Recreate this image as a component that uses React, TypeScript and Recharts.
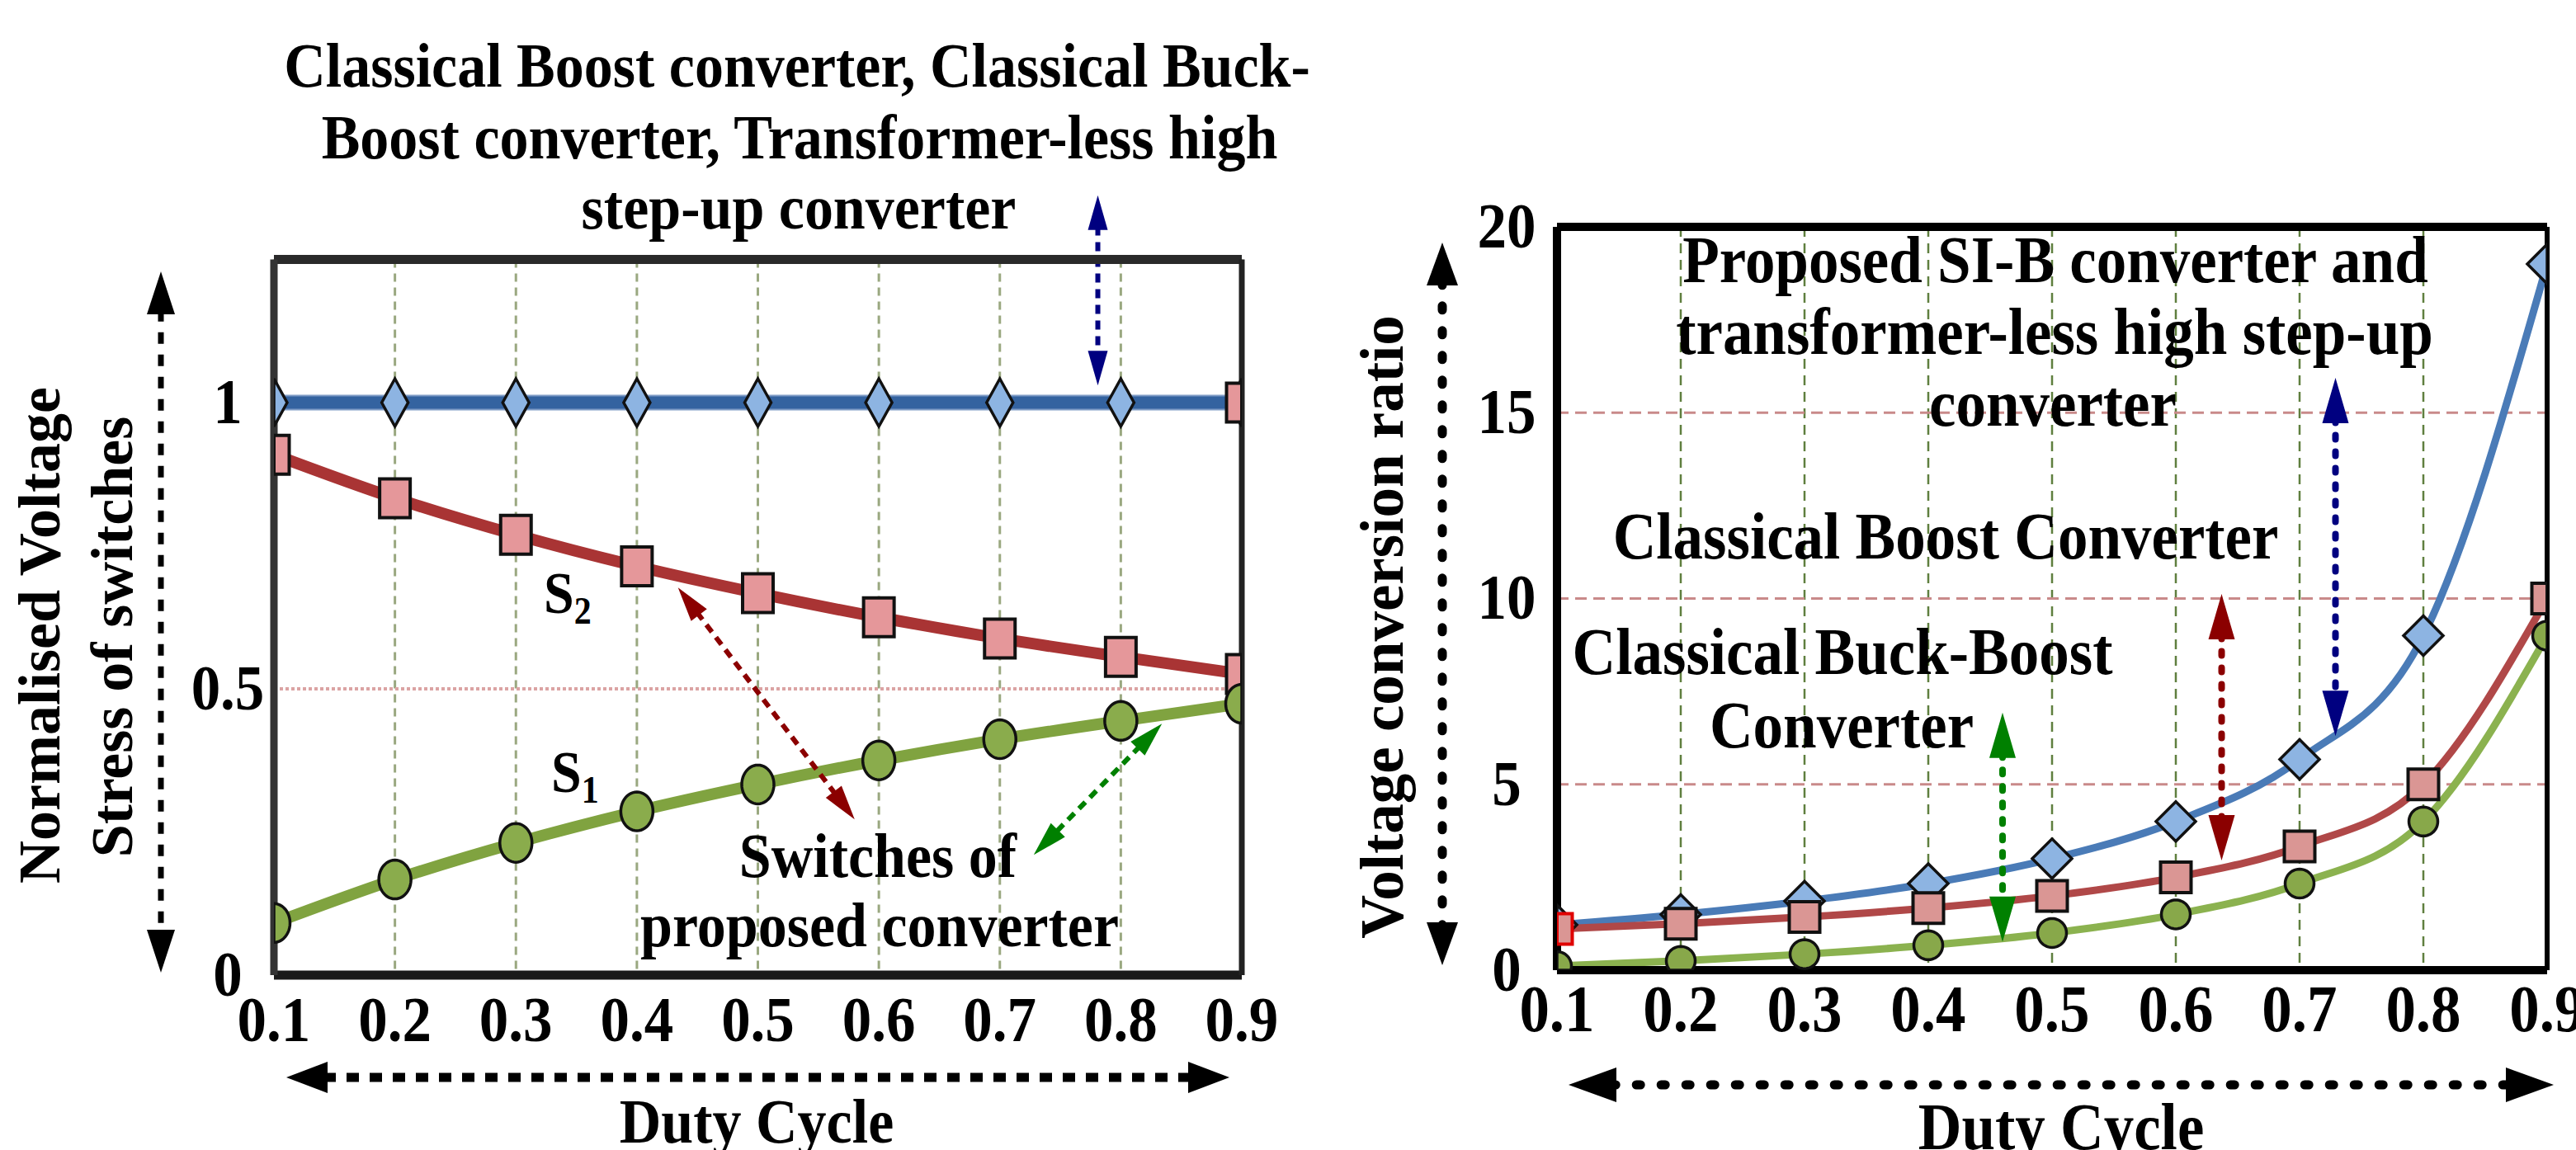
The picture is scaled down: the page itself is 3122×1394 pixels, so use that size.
import React from "react"
import { LineChart, Line, XAxis, YAxis, CartesianGrid, ReferenceLine } from "recharts"

// duty cycle (x) shared by both panels
const dutyCycle = [0.1, 0.2, 0.3, 0.4, 0.5, 0.6, 0.7, 0.8, 0.9]

// left panel: normalised voltage stress of switches
const stressClassical = [1, 1, 1, 1, 1, 1, 1, 1, 1]
const stressS2 = [0.909, 0.833, 0.769, 0.714, 0.667, 0.625, 0.588, 0.556, 0.526]
const stressS1 = [0.091, 0.167, 0.231, 0.286, 0.333, 0.375, 0.412, 0.444, 0.474]
const stressBoostEnd = [null, null, null, null, null, null, null, null, 1]
const stressTicks = [0, 0.5, 1]
const stressGrid = [0.5]

// right panel: voltage conversion ratio
const gainProposed = [1.22, 1.5, 1.86, 2.33, 3.0, 4.0, 5.67, 9.0, 19.0]
const gainBoost = [1.11, 1.25, 1.43, 1.67, 2.0, 2.5, 3.33, 5.0, 10.0]
const gainBuckBoost = [0.11, 0.25, 0.43, 0.67, 1.0, 1.5, 2.33, 4.0, 9.0]
const gainTicks = [0, 5, 10, 15, 20]
const gainGrid = [5, 10, 15]

const stressData = dutyCycle.map((d, i) => ({
  d,
  classical: stressClassical[i],
  s2: stressS2[i],
  s1: stressS1[i],
  boostEnd: stressBoostEnd[i],
}))

const gainData = dutyCycle.map((d, i) => ({
  d,
  proposed: gainProposed[i],
  boost: gainBoost[i],
  buckBoost: gainBuckBoost[i],
}))

// annotation arrows, in data units of each panel
const stressArrows = [
  { a: { x: 0.781, y: 1.362 }, b: { x: 0.781, y: 1.03 }, color: "#000080" },
  { a: { x: 0.434, y: 0.677 }, b: { x: 0.58, y: 0.272 }, color: "#8b0000" },
  { a: { x: 0.834, y: 0.439 }, b: { x: 0.728, y: 0.21 }, color: "#008000" },
]
const gainArrows = [
  { a: { x: 0.729, y: 15.94 }, b: { x: 0.729, y: 6.3 }, color: "#000080" },
  { a: { x: 0.637, y: 10.12 }, b: { x: 0.637, y: 2.95 }, color: "#8b0000" },
  { a: { x: 0.46, y: 6.93 }, b: { x: 0.46, y: 0.76 }, color: "#008000" },
]

const FONT = "'Liberation Serif', 'Times New Roman', serif"
const STRETCH = 1.1 // the figure's lettering is a bit taller than plain Times

// plot rectangles in each chart's own coordinates (markers get cut at them)
const STRESS_PLOT = { x: 332, y: 312, w: 1173, h: 870 }
const GAIN_PLOT = { x: 287, y: 272, w: 1200, h: 904 }

// cut a polygon to a rectangle (Sutherland-Hodgman)
const clipPoly = (pts: number[][], r: any) => {
  const planes = [
    (p: number[]) => p[0] - r.x,
    (p: number[]) => r.x + r.w - p[0],
    (p: number[]) => p[1] - r.y,
    (p: number[]) => r.y + r.h - p[1],
  ]
  let out = pts
  for (const f of planes) {
    const inp = out
    out = []
    for (let i = 0; i < inp.length; i++) {
      const a = inp[i]
      const b = inp[(i + 1) % inp.length]
      const fa = f(a)
      const fb = f(b)
      if (fa >= 0) out.push(a)
      if (fa >= 0 !== fb >= 0) {
        const t = fa / (fa - fb)
        out.push([a[0] + t * (b[0] - a[0]), a[1] + t * (b[1] - a[1])])
      }
    }
    if (!out.length) break
  }
  return out.map((p) => `${p[0]},${p[1]}`).join(" ")
}

const DoubleArrow = (props: any) => {
  const { x1, y1, x2, y2, color, width, dash, headLen, headWidth, cap = "butt" } = props
  if ([x1, y1, x2, y2].some((v) => v == null || isNaN(v))) return <g />
  const dx = x2 - x1
  const dy = y2 - y1
  const len = Math.hypot(dx, dy) || 1
  const ux = dx / len
  const uy = dy / len
  const px = -uy
  const py = ux
  const head = (tx: number, ty: number, dir: number) => {
    const bx = tx - dir * ux * headLen
    const by = ty - dir * uy * headLen
    return `${tx},${ty} ${bx + (px * headWidth) / 2},${by + (py * headWidth) / 2} ${bx - (px * headWidth) / 2},${by - (py * headWidth) / 2}`
  }
  return (
    <g>
      <line
        x1={x1 + ux * headLen * 0.9}
        y1={y1 + uy * headLen * 0.9}
        x2={x2 - ux * headLen * 0.9}
        y2={y2 - uy * headLen * 0.9}
        stroke={color}
        strokeWidth={width}
        strokeDasharray={dash}
        strokeLinecap={cap}
      />
      <polygon points={head(x1, y1, -1)} fill={color} />
      <polygon points={head(x2, y2, 1)} fill={color} />
    </g>
  )
}

type Shape = (cx: number, cy: number) => number[][]

const diamond = (w: number, h: number): Shape => (cx, cy) => [
  [cx, cy - h / 2],
  [cx + w / 2, cy],
  [cx, cy + h / 2],
  [cx - w / 2, cy],
]
const box = (w: number, h: number): Shape => (cx, cy) => [
  [cx - w / 2, cy - h / 2],
  [cx + w / 2, cy - h / 2],
  [cx + w / 2, cy + h / 2],
  [cx - w / 2, cy + h / 2],
]
const oval = (rx: number, ry: number): Shape => (cx, cy) =>
  Array.from({ length: 48 }, (_, k) => {
    const t = (k / 48) * Math.PI * 2
    return [cx + rx * Math.cos(t), cy + ry * Math.sin(t)]
  })

const markerDot = (shape: Shape, fill: string, plot: any, sw = 3.5, firstStroke?: string) => (props: any) => {
  const { cx, cy, index } = props
  if (cx == null || cy == null || isNaN(cx) || isNaN(cy)) return <g key={`m-${index}`} />
  return (
    <polygon
      key={`m-${index}`}
      points={clipPoly(shape(cx, cy), plot)}
      fill={fill}
      stroke={index === 0 && firstStroke ? firstStroke : "#111"}
      strokeWidth={sw}
      strokeLinejoin="miter"
    />
  )
}

const stretchAt = (y: number) => `translate(0 ${y}) scale(1 ${STRETCH}) translate(0 ${-y})`

const xTick = (fontSize: number, dy: number) => (props: any) => {
  const { x, y, payload } = props
  return (
    <text
      x={x}
      y={y + dy}
      textAnchor="middle"
      fontFamily={FONT}
      fontWeight="bold"
      fontSize={fontSize}
      fill="#000"
      transform={stretchAt(y + dy)}
    >
      {String(payload.value)}
    </text>
  )
}

const yTick = (fontSize: number, dx: number, dy: number) => (props: any) => {
  const { x, y, payload } = props
  return (
    <text
      x={x - dx}
      y={y + dy}
      textAnchor="middle"
      fontFamily={FONT}
      fontWeight="bold"
      fontSize={fontSize}
      fill="#000"
      transform={stretchAt(y + dy)}
    >
      {String(payload.value)}
    </text>
  )
}

const T = ({ x, y, size = 72, anchor = "middle", rotate = false, children }: any) => (
  <text
    x={x}
    y={y}
    textAnchor={anchor}
    fontFamily={FONT}
    fontWeight="bold"
    fontSize={size}
    fill="#000"
    transform={rotate ? `rotate(-90 ${x} ${y})` : stretchAt(y)}
  >
    {children}
  </text>
)

const StressChart = () => (
  <LineChart width={1600} height={1394} data={stressData} margin={{ top: 314.5, right: 95, bottom: 112, left: 232 }}>
    <CartesianGrid horizontal={false} stroke="#9aa880" strokeWidth={3} strokeDasharray="10 7" />
    {stressGrid.map((v) => (
      <ReferenceLine key={v} y={v} stroke="#dba3a3" strokeWidth={4} strokeDasharray="4 3" />
    ))}
    <XAxis
      type="number"
      dataKey="d"
      domain={[0.1, 0.9]}
      ticks={dutyCycle}
      interval={0}
      allowDataOverflow
      axisLine={false}
      tickLine={false}
      tickSize={0}
      tickMargin={0}
      height={100}
      tick={xTick(71, 80)}
    />
    <YAxis
      type="number"
      domain={[0, 1.25]}
      ticks={stressTicks}
      interval={0}
      allowDataOverflow
      axisLine={false}
      tickLine={false}
      tickSize={0}
      tickMargin={0}
      width={100}
      tick={yTick(71, 56, 25)}
    />
    {/* light fringe under the classical line */}
    <Line type="monotone" dataKey="classical" stroke="#7f9cc6" strokeWidth={19} dot={false} isAnimationActive={false} />
    <Line
      type="monotone"
      dataKey="classical"
      stroke="#3463a0"
      strokeWidth={15}
      dot={markerDot(diamond(32, 58), "#8db4e2", STRESS_PLOT)}
      isAnimationActive={false}
    />
    <Line
      type="monotone"
      dataKey="s2"
      stroke="#a93434"
      strokeWidth={14}
      dot={markerDot(box(37, 47), "#e5979a", STRESS_PLOT, 4)}
      isAnimationActive={false}
    />
    <Line
      type="monotone"
      dataKey="s1"
      stroke="#80a340"
      strokeWidth={14}
      dot={markerDot(oval(19.5, 23.5), "#8aac4c", STRESS_PLOT)}
      isAnimationActive={false}
    />
    <Line
      dataKey="boostEnd"
      stroke="none"
      dot={markerDot(box(37, 47), "#e5979a", STRESS_PLOT, 4)}
      isAnimationActive={false}
    />
    {stressArrows.map((ar, i) => (
      <ReferenceLine
        key={`sa-${i}`}
        segment={[ar.a, ar.b]}
        ifOverflow="visible"
        shape={(p: any) => (
          <DoubleArrow {...p} color={ar.color} width={6} dash="11 8" headLen={42} headWidth={24} />
        )}
      />
    ))}
    <ReferenceLine y={1.25} stroke="#2a2a2a" strokeWidth={11} />
    <ReferenceLine y={0} stroke="#1a1a1a" strokeWidth={11} />
    <ReferenceLine x={0.1} stroke="#333" strokeWidth={9} />
    <ReferenceLine x={0.9} stroke="#222" strokeWidth={7} />
  </LineChart>
)

const GainChart = () => (
  <LineChart width={1522} height={1394} data={gainData} margin={{ top: 275, right: 35, bottom: 118, left: 187 }}>
    <CartesianGrid horizontal={false} stroke="#5f7f3f" strokeWidth={2.5} strokeDasharray="12 8" />
    {gainGrid.map((v) => (
      <ReferenceLine key={v} y={v} stroke="#c98a8a" strokeWidth={3} strokeDasharray="14 8" />
    ))}
    <XAxis
      type="number"
      dataKey="d"
      domain={[0.1, 0.9]}
      ticks={dutyCycle}
      interval={0}
      allowDataOverflow
      axisLine={false}
      tickLine={false}
      tickSize={0}
      tickMargin={0}
      height={100}
      tick={xTick(73, 74)}
    />
    <YAxis
      type="number"
      domain={[0, 20]}
      ticks={gainTicks}
      interval={0}
      allowDataOverflow
      axisLine={false}
      tickLine={false}
      tickSize={0}
      tickMargin={0}
      width={100}
      tick={yTick(71, 61, 25)}
    />
    <Line
      type="monotone"
      dataKey="proposed"
      stroke="#4a7bb7"
      strokeWidth={9}
      dot={markerDot(diamond(48, 48), "#8db4e2", GAIN_PLOT)}
      isAnimationActive={false}
    />
    <Line
      type="monotone"
      dataKey="boost"
      stroke="#b04848"
      strokeWidth={9}
      dot={markerDot(box(37, 37), "#da9694", GAIN_PLOT, 4, "#e00000")}
      isAnimationActive={false}
    />
    <Line
      type="monotone"
      dataKey="buckBoost"
      stroke="#8bb24f"
      strokeWidth={9}
      dot={markerDot(oval(17.5, 17.5), "#88a84a", GAIN_PLOT)}
      isAnimationActive={false}
    />
    {gainArrows.map((ar, i) => (
      <ReferenceLine
        key={`ga-${i}`}
        segment={[ar.a, ar.b]}
        ifOverflow="visible"
        shape={(p: any) => (
          <DoubleArrow {...p} color={ar.color} width={8} dash="5 15" cap="round" headLen={55} headWidth={32} />
        )}
      />
    ))}
    <ReferenceLine y={20} stroke="#000" strokeWidth={10} />
    <ReferenceLine y={0} stroke="#000" strokeWidth={10} />
    <ReferenceLine x={0.1} stroke="#000" strokeWidth={10} />
    <ReferenceLine x={0.9} stroke="#000" strokeWidth={6} />
  </LineChart>
)

const Overlay = () => (
  <svg width={3122} height={1394} style={{ position: "absolute", left: 0, top: 0, pointerEvents: "none" }}>
    {/* left panel labels */}
    <T x={966} y={105} size={70}>Classical Boost converter, Classical Buck-</T>
    <T x={969} y={192} size={70}>Boost converter, Transformer-less high</T>
    <T x={968} y={277} size={70}>step-up converter</T>
    <text x={659} y={743} fontFamily={FONT} fontWeight="bold" fontSize={66} transform={stretchAt(743)}>
      S<tspan fontSize={42} dy={12}>2</tspan>
    </text>
    <text x={668} y={960} fontFamily={FONT} fontWeight="bold" fontSize={66} transform={stretchAt(960)}>
      S<tspan fontSize={42} dy={12}>1</tspan>
    </text>
    <T x={1064} y={1063} size={70}>Switches of</T>
    <T x={1066} y={1147} size={70}>proposed converter</T>
    <T x={72} y={770} size={72} rotate>Normalised Voltage</T>
    <T x={160} y={772} size={72} rotate>Stress of switches</T>
    <T x={917} y={1385} size={70}>Duty Cycle</T>
    <DoubleArrow x1={195} y1={329} x2={195} y2={1179} color="#000" width={7} dash="14 13" headLen={52} headWidth={34} />
    <DoubleArrow x1={347} y1={1306} x2={1490} y2={1306} color="#000" width={11} dash="15 13" headLen={50} headWidth={38} />

    {/* right panel labels */}
    <T x={2491} y={342} size={73}>Proposed SI-B converter and</T>
    <T x={2490} y={429} size={73}>transformer-less high step-up</T>
    <T x={2488} y={516} size={73}>converter</T>
    <T x={2358} y={677} size={73}>Classical Boost Converter</T>
    <T x={2233} y={817} size={73}>Classical Buck-Boost</T>
    <T x={2232} y={906} size={73}>Converter</T>
    <T x={1700} y={760} size={73} rotate>Voltage conversion ratio</T>
    <T x={2498} y={1393} size={73}>Duty Cycle</T>
    <DoubleArrow x1={1748} y1={294} x2={1748} y2={1170} color="#000" width={11} dash="5 25" cap="round" headLen={52} headWidth={38} />
    <DoubleArrow x1={1901} y1={1315} x2={3095} y2={1315} color="#000" width={11} dash="5 25" cap="round" headLen={58} headWidth={42} />
  </svg>
)

export default function App() {
  return (
    <div style={{ position: "absolute", left: 0, top: 0, width: 3122, height: 1394, background: "#fff", overflow: "hidden" }}>
      <div style={{ position: "absolute", left: 0, top: 0 }}>
        <StressChart />
      </div>
      <div style={{ position: "absolute", left: 1600, top: 0 }}>
        <GainChart />
      </div>
      <Overlay />
    </div>
  )
}
